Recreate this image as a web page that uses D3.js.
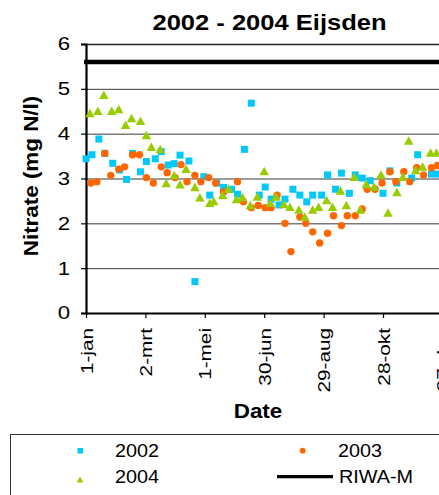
<!DOCTYPE html>
<html>
<head>
<meta charset="utf-8">
<script src="https://cdn.jsdelivr.net/npm/d3@7"></script>
<style>
  html, body { margin: 0; padding: 0; background: #fff; }
  svg { display: block; font-family: "Liberation Sans", Arial, sans-serif; }
</style>
</head>
<body>
<svg id="chart" width="439" height="495"></svg>
<script>
// ---- data (day of year, 1-jan = 0) ----
const days2002 = [0,6,13,19,27,34,41,47,55,61,70,76,83,89,95,104,110,119,125,132,139,147,153,160,167,175,181,187,195,201,209,216,223,229,238,244,252,258,266,272,279,287,300,307,314,329,335,349,355];
const vals2002 = [3.44,3.53,3.88,3.56,3.34,3.19,2.98,3.56,3.15,3.38,3.44,3.60,3.30,3.33,3.52,3.39,0.70,3.04,2.63,2.90,2.80,2.76,2.65,3.65,4.68,2.63,2.81,2.54,2.41,2.54,2.76,2.63,2.48,2.63,2.63,3.08,2.76,3.12,2.67,3.08,3.01,2.95,2.67,3.17,2.90,3.01,3.53,3.10,3.10];

const days2003 = [5,11,19,25,33,39,47,54,61,68,76,82,90,96,102,110,116,124,131,139,153,159,167,174,181,187,193,201,207,216,222,229,236,244,250,258,264,272,279,284,292,299,307,313,321,327,334,341,349,355];
const vals2003 = [2.90,2.93,3.56,3.07,3.21,3.26,3.53,3.53,3.02,2.90,3.26,3.13,3.02,3.31,2.93,3.07,2.93,3.02,2.90,2.70,2.93,2.48,2.35,2.40,2.35,2.35,2.63,2.00,1.37,2.14,2.00,1.81,1.56,1.78,2.17,1.95,2.17,2.17,2.32,2.76,2.76,2.90,3.15,2.93,3.15,2.93,3.24,3.08,3.24,3.29];

const days2004 = [4,12,18,26,33,40,46,55,61,66,75,81,89,95,101,110,115,125,129,138,144,152,158,166,173,180,186,192,200,206,215,221,229,235,243,249,257,263,271,277,283,291,298,305,314,320,326,333,340,348,354];
const vals2004 = [4.46,4.51,4.87,4.51,4.55,4.20,4.35,4.29,3.97,3.71,3.66,2.90,3.08,2.87,3.22,2.81,2.58,2.46,2.50,2.63,2.77,2.54,2.59,2.41,2.60,3.17,2.46,2.60,2.43,2.37,2.31,2.15,2.31,2.37,2.52,2.37,2.73,2.41,3.04,2.31,2.88,2.82,3.09,2.24,2.70,3.04,3.85,3.19,3.27,3.58,3.58];

const riwaDays = [0, 365];
const riwaVals = [5.6, 5.6];

const tickDays = [0, 60, 120, 180, 240, 300, 360];
const tickLabels = ["1-jan", "2-mrt", "1-mei", "30-jun", "29-aug", "28-okt", "27-dec"];
const yTicks = [0, 1, 2, 3, 4, 5, 6];

const seriesNames = ["2002", "2003", "2004", "RIWA-M"];
const colors = { s2002: "#00C8F8", s2003: "#FF6600", s2004: "#99CC00", riwa: "#000000" };

// ---- layout ----
const svg = d3.select("#chart");
const plotLeft = 86, plotTop = 44, plotBottom = 313;
const x = d3.scaleLinear().domain([0, 365]).range([plotLeft, plotLeft + 365 * 0.99]);
const y = d3.scaleLinear().domain([0, 6]).range([plotBottom, plotTop]);
const xRight = 445;

function stretch(sel, factor) {
  sel.each(function() {
    const L = this.getComputedTextLength();
    d3.select(this).attr("textLength", L * factor).attr("lengthAdjust", "spacingAndGlyphs");
  });
}

// gridlines
svg.append("g").selectAll("line").data([1, 2, 3, 4, 5]).join("line")
  .attr("x1", plotLeft).attr("x2", xRight)
  .attr("y1", d => y(d) + 0.5).attr("y2", d => y(d) + 0.5)
  .attr("stroke", "#3a3a3a").attr("stroke-width", 1);

// top frame line
svg.append("line").attr("x1", plotLeft).attr("x2", xRight).attr("y1", y(6) + 0.5).attr("y2", y(6) + 0.5)
  .attr("stroke", "#222").attr("stroke-width", 1.4);

// axes
const yAxis = d3.axisLeft(y).tickValues(yTicks).tickSize(5).tickPadding(11).tickFormat(d3.format("d"));
const gy = svg.append("g").attr("transform", `translate(${plotLeft},0)`).call(yAxis);
gy.select(".domain").attr("stroke", "#000").attr("stroke-width", 2.2);
gy.selectAll(".tick line").attr("stroke", "#000").attr("stroke-width", 1.2);
gy.selectAll(".tick text").attr("font-size", 18.5).attr("fill", "#000")
  .attr("font-family", "Liberation Sans, Arial, sans-serif");
stretch(gy.selectAll(".tick text"), 1.2);

const xAxis = d3.axisBottom(x).tickValues(tickDays).tickSize(5).tickFormat((d, i) => tickLabels[i]);
const gx = svg.append("g").attr("transform", `translate(0,${plotBottom})`).call(xAxis);
gx.select(".domain").attr("stroke", "#000").attr("stroke-width", 2.2).attr("d", `M${plotLeft},0.5H${xRight}`);
gx.selectAll(".tick line").attr("stroke", "#000").attr("stroke-width", 1.2);
gx.selectAll(".tick text")
  .attr("font-size", 17).attr("fill", "#000")
  .attr("font-family", "Liberation Sans, Arial, sans-serif")
  .attr("text-anchor", "end")
  .attr("transform", "rotate(-90)")
  .attr("x", -15).attr("y", 0).attr("dy", "0.36em");
stretch(gx.selectAll(".tick text"), 1.22);

// markers
function triPath(w, h) {
  return `M0,${-h / 2}L${w / 2},${h / 2}L${-w / 2},${h / 2}Z`;
}
const gMarks = svg.append("g");
gMarks.append("g").selectAll("rect").data(days2002.map((d, i) => [d, vals2002[i]])).join("rect")
  .attr("x", d => x(d[0]) - 3.5).attr("y", d => y(d[1]) - 3.5)
  .attr("width", 7).attr("height", 7).attr("fill", colors.s2002);
gMarks.append("g").selectAll("circle").data(days2003.map((d, i) => [d, vals2003[i]])).join("circle")
  .attr("cx", d => x(d[0])).attr("cy", d => y(d[1])).attr("r", 3.7).attr("fill", colors.s2003);
gMarks.append("g").selectAll("path").data(days2004.map((d, i) => [d, vals2004[i]])).join("path")
  .attr("d", triPath(9.5, 8.5))
  .attr("transform", d => `translate(${x(d[0])},${y(d[1])})`)
  .attr("fill", colors.s2004);

// RIWA-M line
const line = d3.line().x(d => d[0]).y(d => d[1]);
svg.append("path")
  .datum(riwaDays.map((d, i) => [x(d) - 2, y(riwaVals[i])]))
  .attr("d", line).attr("stroke", colors.riwa).attr("stroke-width", 4.5).attr("fill", "none");

// title
const title = svg.append("text").attr("x", 269.5).attr("y", 30).attr("text-anchor", "middle")
  .attr("font-size", 22).attr("font-weight", "bold").text("2002 - 2004 Eijsden");
stretch(title, 1.16);

// y axis label
const yl = svg.append("text").attr("transform", "translate(38,176) rotate(-90)")
  .attr("text-anchor", "middle").attr("font-size", 20).attr("font-weight", "bold")
  .text("Nitrate (mg N/l)");
stretch(yl, 1.12);

// x axis label
const xl = svg.append("text").attr("x", 258).attr("y", 418).attr("text-anchor", "middle")
  .attr("font-size", 20).attr("font-weight", "bold").text("Date");
stretch(xl, 1.12);

// legend
const lg = svg.append("g");
lg.append("rect").attr("x", 10.5).attr("y", 434.5).attr("width", 440).attr("height", 80)
  .attr("fill", "#fff").attr("stroke", "#333").attr("stroke-width", 1);
lg.append("rect").attr("x", 77.5).attr("y", 448).attr("width", 5.5).attr("height", 5.5).attr("fill", colors.s2002);
lg.append("circle").attr("cx", 302.7).attr("cy", 450.7).attr("r", 2.9).attr("fill", colors.s2003);
lg.append("path").attr("d", triPath(6.5, 6)).attr("transform", "translate(80,479.5)").attr("fill", colors.s2004);
lg.append("line").attr("x1", 277).attr("x2", 333).attr("y1", 476.7).attr("y2", 476.7)
  .attr("stroke", colors.riwa).attr("stroke-width", 3.2);
const legendPos = [[115, 457], [338, 457], [115, 483], [339, 483]];
const lt = lg.selectAll("text.lt").data(seriesNames).join("text").attr("class", "lt")
  .attr("x", (d, i) => legendPos[i][0]).attr("y", (d, i) => legendPos[i][1])
  .attr("font-size", 18).text(d => d);
stretch(lt, 1.1);
</script>
</body>
</html>
